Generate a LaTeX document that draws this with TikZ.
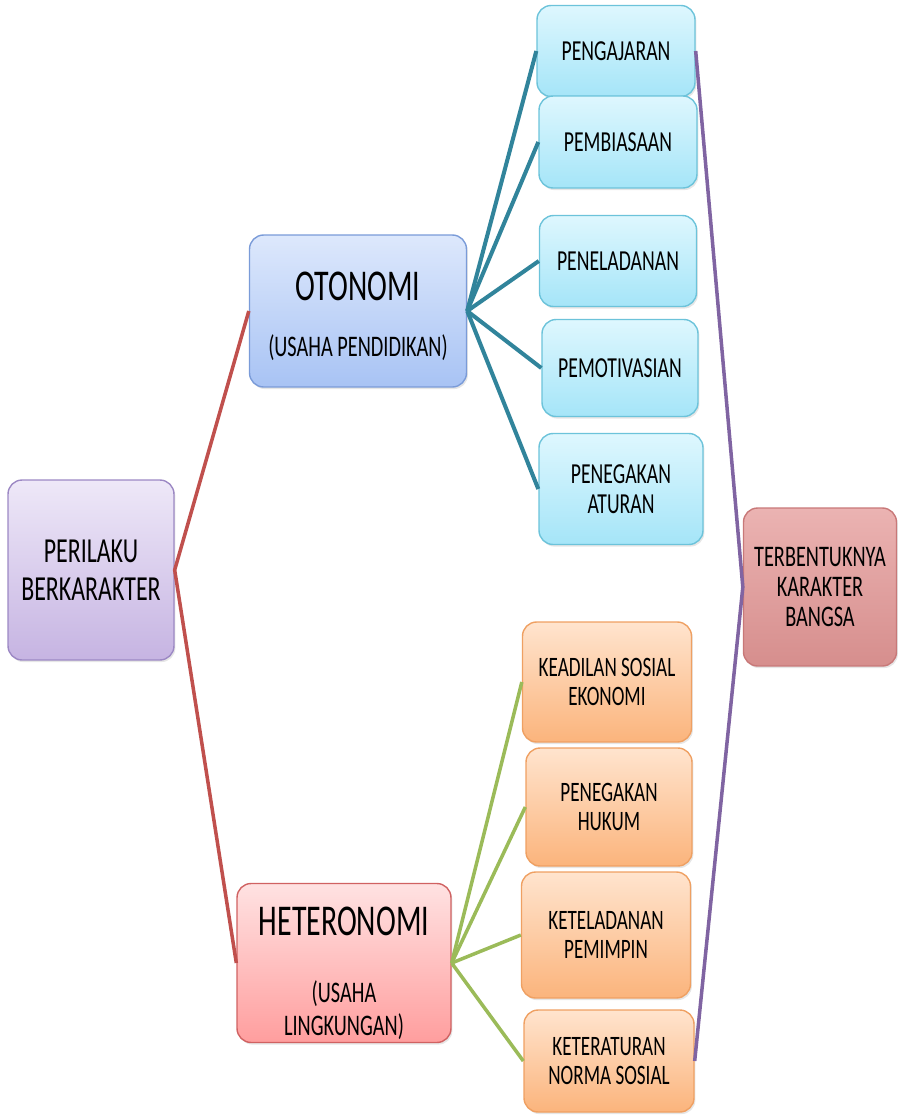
\documentclass[tikz,border=0pt]{standalone}
\usepackage{fontspec}
\setmainfont{Carlito}[FakeStretch=0.68]
\usepackage{tikz}
\usetikzlibrary{positioning,shadows}

\definecolor{purpletop}{HTML}{EEE8F8}
\definecolor{purplebot}{HTML}{C6B4E2}
\definecolor{purpleline}{HTML}{9C88C4}
\definecolor{bluetop}{HTML}{DDE8FC}
\definecolor{bluebot}{HTML}{A8C3F4}
\definecolor{blueline}{HTML}{7A9BD8}
\definecolor{pinktop}{HTML}{FFE2E2}
\definecolor{pinkbot}{HTML}{FF9E9E}
\definecolor{pinkline}{HTML}{D06262}
\definecolor{cyantop}{HTML}{DEF7FE}
\definecolor{cyanbot}{HTML}{A5E5F8}
\definecolor{cyanline}{HTML}{6CC3DA}
\definecolor{orangetop}{HTML}{FFE4CE}
\definecolor{orangebot}{HTML}{FBB47C}
\definecolor{orangeline}{HTML}{EFA062}
\definecolor{rosetop}{HTML}{EBB3B2}
\definecolor{rosebot}{HTML}{D68E8D}
\definecolor{roseline}{HTML}{C87878}
\definecolor{redlink}{HTML}{C0504D}
\definecolor{teallink}{HTML}{31849B}
\definecolor{greenlink}{HTML}{9BBB59}
\definecolor{violetlink}{HTML}{8064A2}

\begin{document}
\begin{tikzpicture}[x=0.02cm,y=-0.02cm,
    box/.style={rounded corners=8pt, align=center, line width=0.8pt,
      drop shadow={opacity=0.2, shadow xshift=0.8pt, shadow yshift=-1.2pt}},
    rootbox/.style={box, draw=purpleline, top color=purpletop, bottom color=purplebot,
      font=\fontsize{20}{21.5}\selectfont},
    otobox/.style={box, draw=blueline, top color=bluetop, bottom color=bluebot},
    hetbox/.style={box, draw=pinkline, top color=pinktop, bottom color=pinkbot},
    cyanbox/.style={box, draw=cyanline, top color=cyantop, bottom color=cyanbot,
      font=\fontsize{16.5}{17}\selectfont},
    orangebox/.style={box, draw=orangeline, top color=orangetop, bottom color=orangebot,
      font=\fontsize{16}{17}\selectfont},
    goalbox/.style={box, draw=roseline, top color=rosetop, bottom color=rosebot,
      font=\fontsize{17}{17}\selectfont},
    link/.style={line width=2pt}]
  \useasboundingbox (0,0) rectangle (898,1116);

  % main boxes
  \node[rootbox, minimum width=3.32cm, minimum height=3.6cm] (per) at (91,570) {PERILAKU\\BERKARAKTER};
  \node[otobox, inner ysep=0pt, minimum width=4.34cm, minimum height=3.04cm] (oto) at (358,311)
    {\fontsize{25}{26}\selectfont\rule{0pt}{22pt}OTONOMI\\[18pt]\fontsize{17}{20}\selectfont (USAHA PENDIDIKAN)};
  \node[hetbox, inner ysep=0pt, minimum width=4.28cm, minimum height=3.18cm] (het) at (344,963)
    {\fontsize{25}{26}\selectfont\rule{0pt}{28pt}HETERONOMI\\[25pt]\fontsize{17}{20}\selectfont (USAHA\\[3pt]\fontsize{17}{20}\selectfont LINGKUNGAN)};

  % otonomi branches
  \node[cyanbox, minimum width=3.16cm, minimum height=1.82cm] (ajar) at (616,51) {PENGAJARAN};
  \node[cyanbox, minimum width=3.16cm, minimum height=1.84cm] (biasa) at (618,142) {PEMBIASAAN};
  \node[cyanbox, minimum width=3.14cm, minimum height=1.82cm] (teladan) at (618,261) {PENELADANAN};
  \node[cyanbox, minimum width=3.12cm, minimum height=1.94cm] (motivasi) at (620,368) {PEMOTIVASIAN};
  \node[cyanbox, minimum width=3.28cm, minimum height=2.22cm] (aturan) at (621,489) {PENEGAKAN\\ATURAN};

  % heteronomi branches
  \node[orangebox, minimum width=3.38cm, minimum height=2.4cm] (adil) at (607,682) {KEADILAN SOSIAL\\EKONOMI};
  \node[orangebox, minimum width=3.32cm, minimum height=2.36cm] (hukum) at (609,807) {PENEGAKAN\\HUKUM};
  \node[orangebox, minimum width=3.38cm, minimum height=2.52cm] (pimpin) at (606,935) {KETELADANAN\\PEMIMPIN};
  \node[orangebox, minimum width=3.4cm, minimum height=2.04cm] (norma) at (609,1061) {KETERATURAN\\NORMA SOSIAL};

  % goal
  \node[goalbox, minimum width=3.06cm, minimum height=3.16cm] (bangsa) at (820,587) {TERBENTUKNYA\\KARAKTER\\BANGSA};

  % connectors
  \draw[link, redlink] (oto.west) -- (per.east) -- (het.west);
  \foreach \n in {ajar,biasa,teladan,motivasi,aturan}
    \draw[link, teallink, line width=2.3pt] (oto.east) -- (\n.west);
  \foreach \n in {adil,hukum,pimpin,norma}
    \draw[link, greenlink] (het.east) -- (\n.west);
  \draw[link, violetlink] (ajar.east) -- (bangsa.west) -- (norma.east);
\end{tikzpicture}
\end{document}
